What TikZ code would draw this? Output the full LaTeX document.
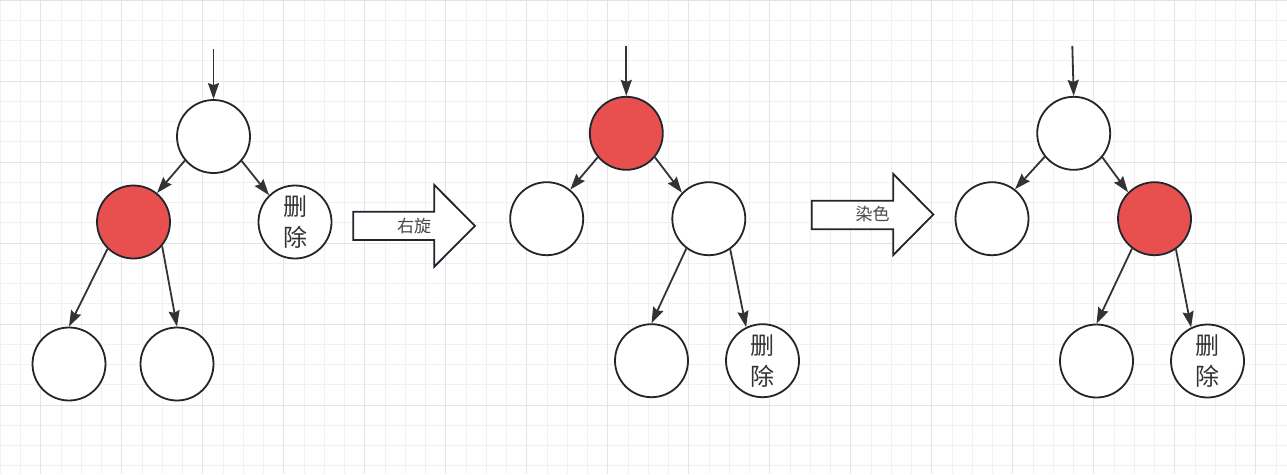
\documentclass[tikz,border=0pt]{standalone}
\usepackage{fontspec}
\newfontfamily\cjk{Noto Sans CJK SC}
\usetikzlibrary{arrows.meta}
\definecolor{rbred}{HTML}{E85050}
\definecolor{edgegray}{HTML}{333333}
\definecolor{ringgray}{HTML}{1F262C}
\definecolor{minorgrid}{HTML}{F1F1F1}
\definecolor{majorgrid}{HTML}{E4E4E4}

\begin{document}
\begin{tikzpicture}[
  x=1pt, y=-1pt,
  rbnode/.style={circle, draw=ringgray, line width=1.8pt, fill=white, minimum size=73pt, inner sep=0pt,
    font=\cjk\fontsize{24}{31}\selectfont, text=edgegray, align=center},
  rednode/.style={rbnode, fill=rbred},
  link/.style={-{Stealth[length=16pt, width=11pt, inset=2pt]}, draw=edgegray, line width=1.8pt},
  bigarrow/.style={draw=ringgray, line width=1.8pt, fill=white, line join=miter},
  arrowtext/.style={font=\cjk\fontsize{17}{20}\selectfont, text=edgegray!90}
]

% Background grid
\useasboundingbox (0,0) rectangle (1287,474);
\fill[white] (0,0) rectangle (1287,474);
\foreach \i in {0,...,63} \draw[minorgrid, line width=1pt] ({0.25+20.25*\i},0) -- ++(0,474);
\foreach \j in {0,...,23} \draw[minorgrid, line width=1pt] (0,{20.25*\j}) -- ++(1287,0);
\foreach \i in {0,...,15} \draw[majorgrid, line width=1pt] ({40.75+81*\i},0) -- ++(0,474);
\foreach \j in {0,...,5} \draw[majorgrid, line width=1pt] (0,{81*\j}) -- ++(1287,0);

% Tree before rotation
\coordinate (top1) at (213.5,49);
\node[rbnode] (r1) at (213.5,136.5) {};
\node[rednode] (r1l) at (133.5,222) {};
\node[rbnode] (r1r) at (295,222) {删\\除};
\node[rbnode] (r1ll) at (69,364) {};
\node[rbnode] (r1lr) at (177,364) {};

\draw[link] (top1) -- (r1.north);
\draw[link] (r1.220) -- (r1l.51);
\draw[link] (r1.319) -- (r1r.134);
\draw[link] (r1l.226) -- (r1ll.north);
\draw[link] (r1l.320) -- (r1lr.north);

% Right rotation
\draw[bigarrow] (353.3,211.7) -- (434.3,211.7) -- (434.3,185) -- (475,225.85)
  -- (434.3,266.7) -- (434.3,240) -- (353.3,240) -- cycle;
\node[arrowtext] (rot) at (414,226) {右旋};

% Tree after rotation
\coordinate (top2) at (626.3,46);
\node[rednode] (r2) at (626.3,133.3) {};
\node[rbnode] (r2l) at (546.7,218.7) {};
\node[rbnode] (r2r) at (708.8,218.7) {};
\node[rbnode] (r2rl) at (651.5,360.7) {};
\node[rbnode] (r2rr) at (762.5,360.7) {删\\除};

\draw[link] (top2) -- (r2.north);
\draw[link] (r2.220) -- (r2l.51);
\draw[link] (r2.320) -- (r2r.136);
\draw[link] (r2r.233) -- (r2rl.north);
\draw[link] (r2r.305) -- (r2rr.116);

% Recolouring
\draw[bigarrow] (811.7,200.7) -- (893.3,200.7) -- (893.3,174) -- (933.3,214.5)
  -- (893.3,255) -- (893.3,229.3) -- (811.7,229.3) -- cycle;
\node[arrowtext] (paint) at (872.5,214.5) {染色};

% Tree after recolouring
\coordinate (top3) at (1072.3,46);
\node[rbnode] (r3) at (1073.7,133.3) {};
\node[rbnode] (r3l) at (992,218.7) {};
\node[rednode] (r3r) at (1154.5,218.7) {};
\node[rbnode] (r3rl) at (1096.5,361) {};
\node[rbnode] (r3rr) at (1207.5,361) {删\\除};

\draw[link] (top3) -- (r3.north);
\draw[link] (r3.219) -- (r3l.52);
\draw[link] (r3.320) -- (r3r.135);
\draw[link] (r3r.233) -- (r3rl.north);
\draw[link] (r3r.305) -- (r3rr.116);

\end{tikzpicture}
\end{document}
